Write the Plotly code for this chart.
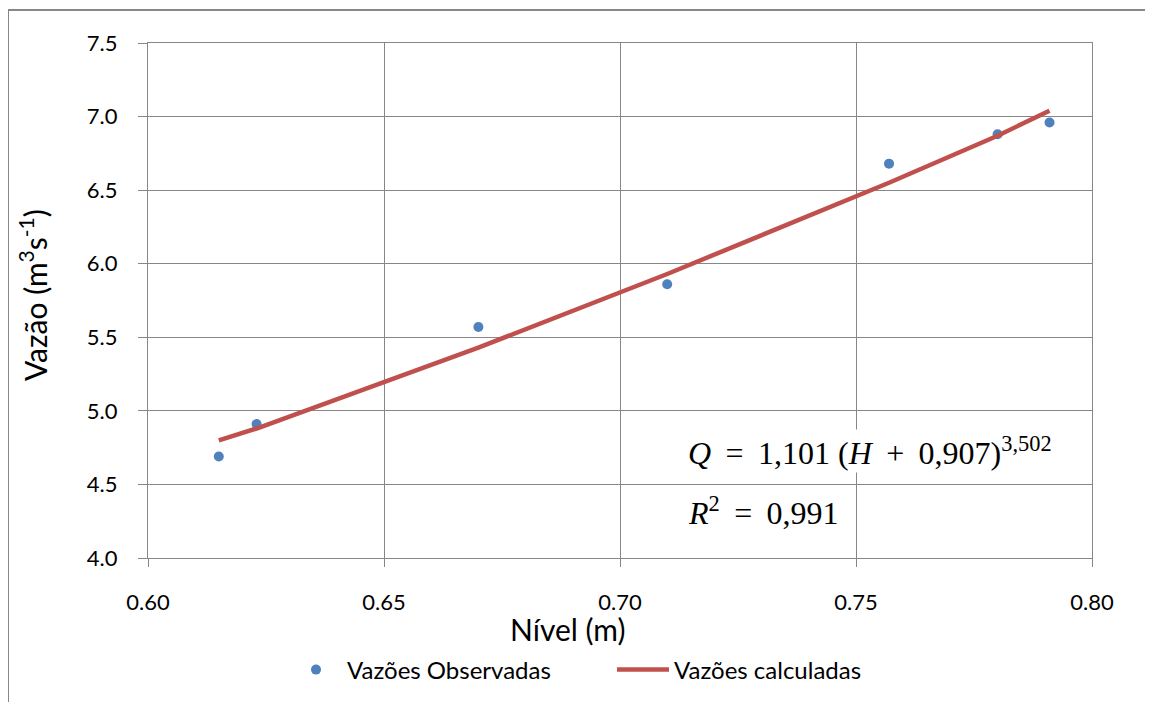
import plotly.graph_objects as go

# Data
nivel = [0.615, 0.623, 0.670, 0.710, 0.757, 0.780, 0.791]
vazao_obs = [4.69, 4.91, 5.57, 5.86, 6.68, 6.88, 6.96]
vazao_calc = [4.80, 4.88, 5.43, 5.93, 6.55, 6.87, 7.04]

x_ticks = [0.60, 0.65, 0.70, 0.75, 0.80]
y_ticks = [4.0, 4.5, 5.0, 5.5, 6.0, 6.5, 7.0, 7.5]

GRID = "#878787"
FONT = "Lato, 'Open Sans', sans-serif"
SERIF = "'Liberation Serif', 'DejaVu Serif', serif"

# page offset of the figure (body margin)
OFF = 8
W, H = 1153 - OFF, 702 - OFF
PL, PR, PT, PB = 148, 1092, 43, 558  # plot area in page pixels
PW, PH = PR - PL, PB - PT


def px(x):
    return (x - PL) / PW


def py(y):
    return (PB - y) / PH


fig = go.Figure()
fig.add_trace(go.Scatter(
    x=nivel, y=vazao_obs, mode="markers", name="Vazões Observadas",
    marker=dict(color="#4F81BD", size=10),
))
fig.add_trace(go.Scatter(
    x=nivel, y=vazao_calc, mode="lines", name="Vazões calculadas",
    line=dict(color="#C0504D", width=4.5),
))

fig.update_layout(
    width=W, height=H,
    margin=dict(l=PL - OFF, r=1153 - PR, t=PT - OFF, b=702 - PB),
    paper_bgcolor="white", plot_bgcolor="white",
    font=dict(family=FONT, size=22, color="#000000"),
    showlegend=True,
    legend=dict(
        orientation="h", xref="container", yref="container",
        x=(285 - OFF) / W, y=(702 - 670) / H, xanchor="left", yanchor="middle",
        font=dict(size=24), itemwidth=52, bgcolor="rgba(0,0,0,0)",
        entrywidth=260, entrywidthmode="pixels",
    ),
    xaxis=dict(
        range=[0.60, 0.80], tickvals=x_ticks,
        ticktext=[f"{v:.2f}" for v in x_ticks],
        showgrid=True, gridcolor=GRID, gridwidth=1.3,
        showline=True, linecolor=GRID, linewidth=1.3, mirror=True,
        ticks="outside", ticklen=8, tickcolor=GRID, tickwidth=1.3,
        zeroline=False, ticklabelstandoff=16,
    ),
    yaxis=dict(
        range=[4.0, 7.5], tickvals=y_ticks,
        ticktext=[f"{v:.1f}" for v in y_ticks],
        showgrid=True, gridcolor=GRID, gridwidth=1.3,
        showline=True, linecolor=GRID, linewidth=1.3, mirror=True,
        ticks="outside", ticklen=9, tickcolor=GRID, tickwidth=1.3,
        zeroline=False, ticklabelstandoff=16,
    ),
)

# Axis titles
fig.add_annotation(
    text="Nível (m)", xref="paper", yref="paper",
    x=px(567), y=py(629),
    showarrow=False, font=dict(size=30, family=FONT),
    xanchor="center", yanchor="middle",
)
fig.add_annotation(
    text="Vazão (m<sup>3</sup>s<sup>-1</sup>)", xref="paper", yref="paper",
    x=px(33), y=py(295), textangle=-90,
    showarrow=False, font=dict(size=30, family=FONT),
    xanchor="center", yanchor="middle",
)

# Equation annotations
SP = "&nbsp;&#8201;"
fig.add_annotation(
    text=f"<i>Q</i>{SP}={SP}1,101 (<i>H</i>{SP}+{SP}0,907)<sup>3,502</sup>",
    xref="paper", yref="paper",
    x=px(686), y=py(451),
    showarrow=False, font=dict(size=32, family=SERIF),
    xanchor="left", yanchor="middle", bgcolor="white",
)
fig.add_annotation(
    text=f"<i>R</i><sup>2</sup>{SP}={SP}0,991",
    xref="paper", yref="paper",
    x=px(686), y=py(511),
    showarrow=False, font=dict(size=32, family=SERIF),
    xanchor="left", yanchor="middle", bgcolor="white",
)

# Outer chart border
fig.add_shape(
    type="rect", xref="paper", yref="paper",
    x0=px(8), x1=px(1300), y0=py(800), y1=py(10),
    line=dict(color=GRID, width=2), fillcolor="rgba(0,0,0,0)", layer="below",
)

fig.write_html("out.html")
